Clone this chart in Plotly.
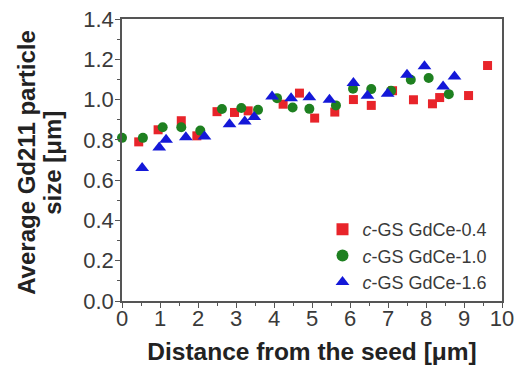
import plotly.graph_objects as go

red_x = [0.44, 0.95, 1.56, 1.97, 2.5, 2.96, 3.32, 4.24, 4.67, 5.07, 5.6, 6.09, 6.56, 7.12, 7.67, 8.17, 8.36, 9.12, 9.62]
red_y = [0.79, 0.85, 0.895, 0.82, 0.94, 0.936, 0.944, 0.977, 1.032, 0.908, 0.938, 1.0, 0.971, 1.044, 0.999, 0.979, 1.01, 1.02, 1.169]

green_x = [0.0, 0.55, 1.07, 1.56, 2.06, 2.63, 3.14, 3.58, 4.08, 4.49, 4.93, 5.63, 6.08, 6.56, 7.08, 7.6, 8.07, 8.6]
green_y = [0.81, 0.81, 0.863, 0.863, 0.846, 0.953, 0.958, 0.949, 1.007, 0.961, 0.954, 0.971, 1.054, 1.052, 1.044, 1.098, 1.107, 1.027]

blue_x = [0.53, 0.98, 1.16, 1.68, 2.17, 2.83, 3.23, 3.48, 3.95, 4.45, 4.93, 5.46, 6.09, 6.46, 6.99, 7.5, 7.96, 8.45, 8.75]
blue_y = [0.66, 0.762, 0.80, 0.813, 0.817, 0.878, 0.891, 0.913, 1.015, 1.007, 1.012, 0.999, 1.082, 1.019, 1.029, 1.123, 1.165, 1.065, 1.115]

names = ["<i>c</i>-GS GdCe-0.4", "<i>c</i>-GS GdCe-1.0", "<i>c</i>-GS GdCe-1.6"]
x_title = "<b>Distance from the seed [μm]</b>"
y_title_lines = ["<b>Average Gd211 particle</b>", "<b>size [μm]</b>"]

fig = go.Figure()
fig.add_trace(go.Scatter(x=red_x, y=red_y, mode="markers", name=names[0],
                         marker=dict(symbol="square", size=9, color="#e8242a"), cliponaxis=False))
fig.add_trace(go.Scatter(x=green_x, y=green_y, mode="markers", name=names[1],
                         marker=dict(symbol="circle", size=10, color="#1e8020"), cliponaxis=False))
fig.add_trace(go.Scatter(x=blue_x, y=blue_y, mode="markers", name=names[2],
                         marker=dict(symbol="triangle-up", size=12, color="#1418d8"), cliponaxis=False))

axis_common = dict(showline=True, linecolor="#555555", linewidth=1.5, mirror=True,
                   ticks="outside", ticklen=5, tickwidth=1.2, tickcolor="#555555",
                   showgrid=False, zeroline=False, automargin=False,
                   tickfont=dict(family="Liberation Sans, Arial", size=22, color="#3a3a3a"))

L, R, T, B = 122, 13, 19, 65
W, H = 515, 366
pw = W - L - R

fig.update_layout(
    width=W, height=H,
    margin=dict(l=L, r=R, t=T, b=B),
    paper_bgcolor="white", plot_bgcolor="white",
    showlegend=True,
    legend=dict(x=0.975, y=0.0, xanchor="right", yanchor="bottom",
                bgcolor="rgba(0,0,0,0)", tracegroupgap=0, itemsizing="constant",
                font=dict(family="Liberation Sans, Arial", size=18, color="#3a3a3a")),
    xaxis=dict(range=[0, 10], tick0=0, dtick=1, ticklabelstandoff=-8,
               minor=dict(ticks="outside", ticklen=3, dtick=0.5, tickcolor="#555555"),
               title=dict(text=x_title, standoff=13,
                          font=dict(family="Liberation Sans, Arial", size=24.5, color="#222222")),
               **axis_common),
    yaxis=dict(range=[0, 1.4], tick0=0, dtick=0.2, tickformat=".1f", ticklabelstandoff=-3,
               minor=dict(ticks="outside", ticklen=3, dtick=0.1, tickcolor="#555555"),
               **axis_common),
)

for txt, px in zip(y_title_lines, [27, 53]):
    fig.add_annotation(text=txt, textangle=-90, showarrow=False,
                       xref="paper", yref="paper", x=(px - L) / pw, y=0.49,
                       xanchor="center", yanchor="middle",
                       font=dict(family="Liberation Sans, Arial", size=24, color="#222222"))

fig.write_html("out.html")
